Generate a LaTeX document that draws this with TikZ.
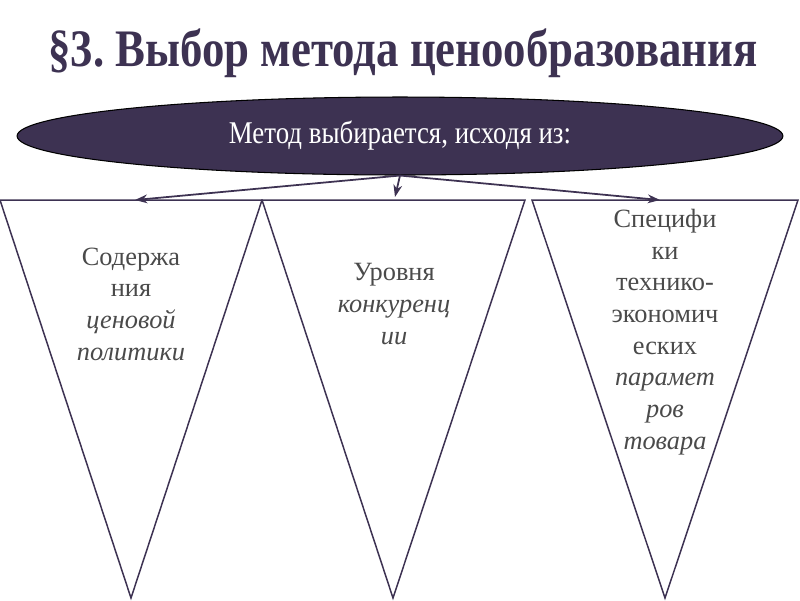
\documentclass[tikz,border=0pt]{standalone}
\usepackage{fontspec}
\setmainfont{Liberation Serif}
\usepackage{tikz}
\usetikzlibrary{arrows.meta}
\usetikzlibrary{shapes.geometric}
\usepackage{xcolor}
\definecolor{plum}{HTML}{3D3252}
\definecolor{inkgray}{HTML}{4A4A4A}
\newfontfamily\narrowserif[FakeStretch=0.85]{Liberation Serif}

\begin{document}
\begin{tikzpicture}[x=0.02cm,y=-0.02cm]
    \useasboundingbox (0,0) rectangle (800,600);
    \tikzstyle{every node}=[font=\fontsize{15}{18}\selectfont,text=inkgray,align=center]
    \tikzstyle{tri}=[draw=plum,line width=0.85pt,line join=miter]
    \tikzstyle{link}=[draw=plum,line width=1pt,-{Stealth[length=7pt,width=5pt]}]
    %% title and oval
    \node (title) at (403,53) {\narrowserif\fontsize{30}{35}\selectfont\bfseries\color{plum}\S3.\ Выбор метода ценообразования};
    \node[ellipse,fill=plum,draw=black,line width=0.6pt,inner sep=0pt,
          minimum width=15.32cm,minimum height=1.56cm,text=white] (metod) at (400,136)
          {\narrowserif\fontsize{18}{21}\selectfont Метод выбирается, исходя из:};
    %% three triangles
    \draw[tri] (0,200) -- (262,200) -- (131,598) -- cycle;
    \draw[tri] (262,200) -- (525,200) -- (393,598) -- cycle;
    \draw[tri] (532,200) -- (798,200) -- (665,598) -- cycle;
    \coordinate (a1) at (135,200);
    \coordinate (a2) at (395,197);
    \coordinate (a3) at (660,200);
    \draw[link] (metod.south) -- (a1);
    \draw[link] (metod.south) -- (a2);
    \draw[link] (metod.south) -- (a3);
    %% texts
    \node (T1) at (131,304) {Содержа\\ния\\\itshape ценовой\\\itshape политики};
    \node (T2) at (394,304) {Уровня\\\itshape конкуренц\\\itshape ии};
    \node (T3) at (665,332) {Специфи\\ки\\технико-\\экономич\\еских\\\itshape парамет\\\itshape ров\\\itshape товара};
\end{tikzpicture}
\end{document}
